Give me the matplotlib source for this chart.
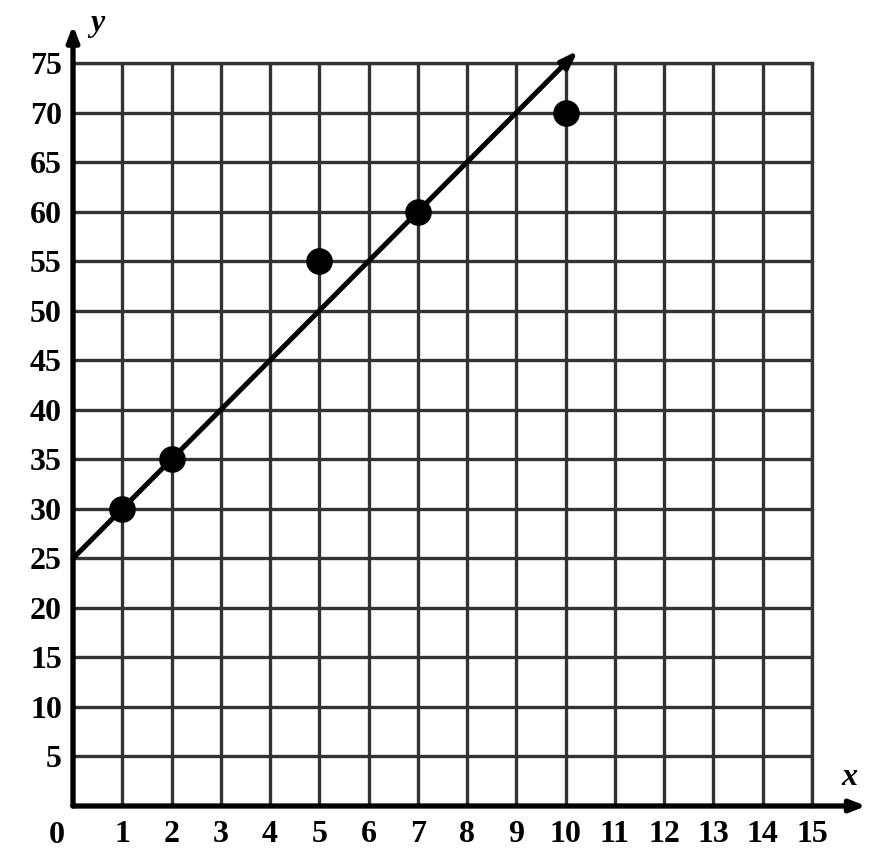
import matplotlib.pyplot as plt

# data
x_pts = [1, 2, 5, 7, 10]
y_pts = [30, 35, 55, 60, 70]
x_ticks = list(range(0, 16))
y_ticks = list(range(5, 80, 5))
line_start = (0, 25)
line_end = (10.25, 76.25)

plt.rcParams['font.family'] = ['Liberation Serif', 'DejaVu Serif']

fig = plt.figure(figsize=(8.84, 8.61), dpi=100)
ax = fig.add_axes([73 / 884, 55 / 861, 739 / 884, 743 / 861])
ax.set_xlim(0, 15)
ax.set_ylim(0, 75)

ax.set_xticks(x_ticks)
ax.set_yticks(y_ticks)
ax.set_xticklabels(['' if v == 0 else str(v) for v in x_ticks],
                   fontsize=23, fontweight='bold')
ax.set_yticklabels([str(v) for v in y_ticks], fontsize=23, fontweight='bold')
ax.tick_params(axis='x', length=0, pad=10)
ax.tick_params(axis='y', length=0, pad=8)
ax.grid(True, color='#333333', linewidth=2.4)
ax.set_axisbelow(True)
for s in ax.spines.values():
    s.set_visible(False)
for side in ['top', 'right']:
    ax.spines[side].set_visible(True)
    ax.spines[side].set_color('#333333')
    ax.spines[side].set_linewidth(2.4)

# axes with arrows
arrow_kw = dict(arrowstyle='-|>,head_length=0.9,head_width=0.35', color='black',
                lw=3.8, shrinkA=0, shrinkB=0)
ax.annotate('', xy=(16.1, 0), xytext=(0, 0), arrowprops=arrow_kw,
            annotation_clip=False, zorder=5)
ax.annotate('', xy=(0, 78.8), xytext=(0, 0), arrowprops=arrow_kw,
            annotation_clip=False, zorder=5)

# "0" at the origin
ax.text(-0.32, -3.0, '0', fontsize=23, fontweight='bold', ha='center',
        va='center', clip_on=False)
ax.text(0.5, 79.0, 'y', fontsize=23, style='italic', fontweight='bold',
        ha='center', va='center', clip_on=False)
ax.text(15.75, 2.9, 'x', fontsize=23, style='italic', fontweight='bold',
        ha='center', va='center', clip_on=False)

# best-fit line with arrow
line_kw = dict(arrowstyle='-|>,head_length=1.0,head_width=0.35', color='black',
               lw=3.6, shrinkA=0, shrinkB=0)
ax.annotate('', xy=line_end, xytext=line_start, arrowprops=line_kw,
            annotation_clip=False, zorder=6)

ax.scatter(x_pts, y_pts, s=330, color='black', zorder=7, clip_on=False)

fig.savefig('out.png', dpi=100)
